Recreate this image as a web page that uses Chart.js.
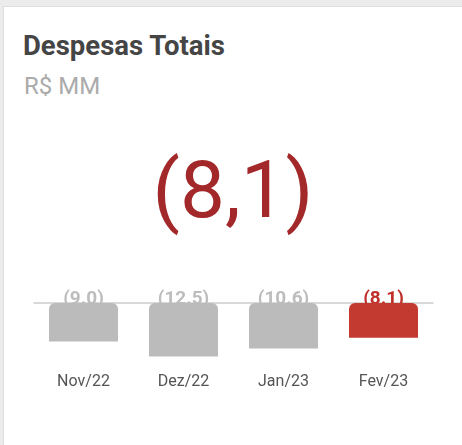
<!DOCTYPE html>
<html lang="pt-BR">
<head>
  <meta charset="UTF-8">
  <title>Despesas Totais</title>
  <script src="https://cdn.jsdelivr.net/npm/chart.js"></script>
  <style>
    html, body { margin: 0; padding: 0; }
    body {
      width: 462px; height: 445px; overflow: hidden;
      background: #ececec; position: relative;
      font-family: Roboto, "Noto Sans", sans-serif;
    }
    .card {
      position: absolute; left: 3px; top: 6px; right: -2px; bottom: -2px;
      background: #fff; border: 1px solid #dcdcdc;
    }
    .title, .subtitle, .big {
      position: absolute; margin: 0; line-height: 1; white-space: nowrap;
    }
    .title { left: 23px; top: 32px; font-size: 27.5px; font-weight: 700; color: #454545; }
    .subtitle { left: 24px; top: 74px; font-size: 24px; color: #ababab; }
    .big { left: 4px; right: 0; top: 150px; text-align: center; font-size: 80px; color: #a3282a; }
    .chart-box { position: absolute; left: 0; top: 270px; width: 462px; height: 131px; }
  </style>
</head>
<body>
  <div class="card"></div>
  <div class="title">Despesas Totais</div>
  <div class="subtitle">R$ MM</div>
  <div class="big" id="bigValue"></div>
  <div class="chart-box"><canvas id="despesasChart"></canvas></div>

  <script>
    const months = ['Nov/22', 'Dez/22', 'Jan/23', 'Fev/23'];
    const values = [-9.0, -12.5, -10.6, -8.1];
    const barColors = ['#bbbbbb', '#bbbbbb', '#bbbbbb', '#c33a31'];
    const labelColors = ['#bdbdbd', '#bdbdbd', '#bdbdbd', '#c0302b'];

    // (8.1) above the bars, (8,1) for the headline number
    const fmt = (v, sep) => '(' + Math.abs(v).toFixed(1).replace('.', sep) + ')';

    document.getElementById('bigValue').textContent = fmt(values[values.length - 1], ',');

    // zero line + value labels, drawn under the bars so the bars cover them a bit
    const zeroLine = {
      id: 'zeroLine',
      beforeDatasetsDraw(chart) {
        const { ctx, chartArea, scales: { y } } = chart;
        const y0 = y.getPixelForValue(0);
        ctx.save();
        ctx.strokeStyle = '#cccccc';
        ctx.lineWidth = 1.5;
        ctx.beginPath();
        ctx.moveTo(chartArea.left, y0);
        ctx.lineTo(chartArea.right, y0);
        ctx.stroke();

        ctx.font = 'bold 19px Roboto';
        ctx.textAlign = 'center';
        ctx.textBaseline = 'alphabetic';
        chart.getDatasetMeta(0).data.forEach((bar, i) => {
          ctx.fillStyle = labelColors[i];
          ctx.fillText(fmt(values[i], '.'), bar.x, y0 + 1);
        });
        ctx.restore();
      }
    };

    new Chart(document.getElementById('despesasChart'), {
      type: 'bar',
      data: {
        labels: months,
        datasets: [{
          data: values,
          backgroundColor: barColors,
          borderWidth: 0,
          borderRadius: 6,
          borderSkipped: 'end',
          barPercentage: 0.69,
          categoryPercentage: 1
        }]
      },
      options: {
        responsive: true,
        maintainAspectRatio: false,
        animation: false,
        layout: { padding: { top: 33, left: 33.5, right: 28.5, bottom: 0 } },
        plugins: { legend: { display: false }, tooltip: { enabled: false } },
        scales: {
          x: {
            grid: { display: false, drawTicks: false },
            border: { display: false },
            ticks: { color: '#555555', padding: 9, font: { family: 'Roboto', size: 16 } }
          },
          y: { display: false, min: -14.2, max: 0 }
        }
      },
      plugins: [zeroLine]
    });
  </script>
</body>
</html>
